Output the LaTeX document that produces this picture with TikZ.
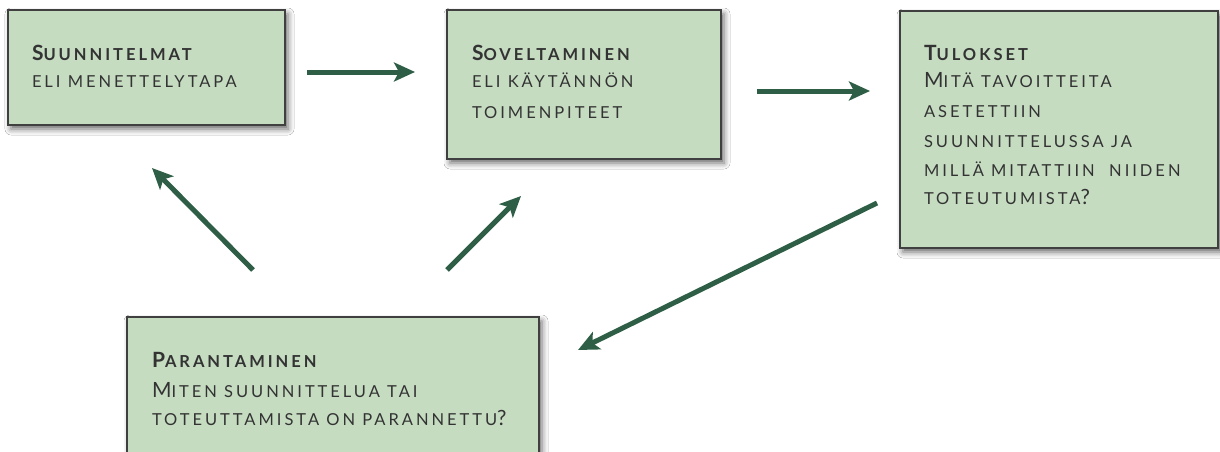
\documentclass[tikz,border=0pt]{standalone}
\usepackage{fontspec}
\setmainfont{Lato}
\newfontfamily\gill[LetterSpace=18]{Lato}
\usetikzlibrary{arrows.meta,shadows.blur}
\definecolor{boxgreen}{HTML}{C5DCC1}
\definecolor{arrowgreen}{HTML}{2E5E45}
\definecolor{textgray}{HTML}{333333}
\newcommand\BC[1]{{\fontsize{21}{22}\selectfont #1}}
\tikzset{
  box/.style={draw=black!75, line width=1.2pt, fill=boxgreen, inner sep=0pt, outer sep=0pt,
    blur shadow={shadow xshift=3pt, shadow yshift=-4pt, shadow blur radius=6pt, shadow opacity=60}},
  txt/.style={anchor=base west, inner sep=0pt, outer sep=0pt, text=textgray, font=\gill\fontsize{16.5}{18}\selectfont},
  ttl/.style={txt, font=\gill\bfseries\fontsize{16.5}{18}\selectfont},
  arr/.style={line width=5pt, draw=arrowgreen, -{Stealth[length=21pt,width=19pt,inset=5pt]}}
}
\begin{document}
\begin{tikzpicture}[x=1pt,y=-1pt]
\clip (0,0) rectangle (1220,452);
\fill[white] (0,0) rectangle (1220,452);
% boxes
\node[box, minimum width=277pt, minimum height=115pt] (b1) at (146.5,67.5) {};
\node[box, minimum width=274pt, minimum height=149pt] (b2) at (584,84.5) {};
\node[box, minimum width=318pt, minimum height=237pt] (b3) at (1059,129.5) {};
\node[box, minimum width=412pt, minimum height=163pt] (b4) at (333,398.5) {};
% texts box 1
\node[ttl] (t1a) at (32,60) {\BC{S}UUNNITELMAT};
\node[txt] (t1b) at (32,88) {ELI MENETTELYTAPA};
% box 2
\node[ttl] (t2a) at (472,60) {\BC{S}OVELTAMINEN};
\node[txt] (t2b) at (472,88) {ELI KÄYTÄNNÖN};
\node[txt] (t2c) at (472,118) {TOIMENPITEET};
% box 3
\node[ttl] (t3a) at (924,60) {\BC{T}ULOKSET};
\node[txt] (t3b) at (924,88) {\BC{M}ITÄ TAVOITTEITA};
\node[txt] (t3c) at (924,117) {ASETETTIIN};
\node[txt] (t3d) at (924,147) {SUUNNITTELUSSA JA};
\node[txt] (t3e) at (924,176) {MILLÄ MITATTIIN\ \ NIIDEN};
\node[txt] (t3f) at (924,204) {TOTEUTUMISTA\BC{?}};
% box 4
\node[ttl] (t4a) at (152,367) {\BC{P}ARANTAMINEN};
\node[txt] (t4b) at (152,397) {\BC{M}ITEN SUUNNITTELUA TAI};
\node[txt] (t4c) at (152,425) {TOTEUTTAMISTA ON PARANNETTU\BC{?}};
% arrow ends
\coordinate (a1s) at (307,72);  \coordinate (a1e) at (415,72);
\coordinate (a2s) at (757,91);  \coordinate (a2e) at (870,91);
\coordinate (a3s) at (877,203); \coordinate (a3e) at (578,350);
\coordinate (a4s) at (253,270); \coordinate (a4e) at (152,168);
\coordinate (a5s) at (447,270); \coordinate (a5e) at (521,196);
\draw[arr] (a1s) -- (a1e);
\draw[arr] (a2s) -- (a2e);
\draw[arr] (a3s) -- (a3e);
\draw[arr] (a4s) -- (a4e);
\draw[arr] (a5s) -- (a5e);
\end{tikzpicture}
\end{document}
